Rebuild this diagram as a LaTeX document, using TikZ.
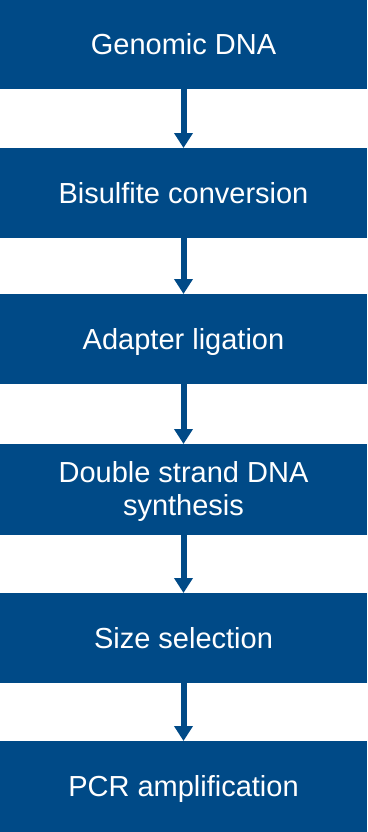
\documentclass[tikz,border=0pt]{standalone}
\usepackage{fontspec}
\setmainfont{Liberation Sans}
\usetikzlibrary{arrows.meta}
\definecolor{stepblue}{RGB}{0,74,135}
\begin{document}
\begin{tikzpicture}[x=1bp,y=-1bp,
  stepbox/.style={fill=stepblue, text=white, minimum width=367bp, inner sep=0pt,
    font=\fontsize{29bp}{33bp}\selectfont, align=center, anchor=north},
  oneline/.style={text height=20.5bp, text depth=0bp},
  flow/.style={draw=stepblue, line width=6bp, -{Triangle[width=18bp,length=15bp]}}]
  \useasboundingbox (0,0) rectangle (367,832);
  \node[stepbox, oneline, minimum height=89bp] (s1) at (183.5,0) {Genomic DNA};
  \node[stepbox, oneline, minimum height=90bp] (s2) at (183.5,148) {Bisulfite conversion};
  \node[stepbox, oneline, minimum height=90bp] (s3) at (183.5,294) {Adapter ligation};
  \node[stepbox, text depth=3bp, minimum height=91bp] (s4) at (183.5,444) {Double strand DNA\\synthesis};
  \node[stepbox, oneline, minimum height=90bp] (s5) at (183.5,593) {Size selection};
  \node[stepbox, oneline, minimum height=91bp] (s6) at (183.5,741) {PCR amplification};
  \draw[flow] (s1.south) -- (s2.north);
  \draw[flow] (s2.south) -- (s3.north);
  \draw[flow] (s3.south) -- (s4.north);
  \draw[flow] (s4.south) -- (s5.north);
  \draw[flow] (s5.south) -- (s6.north);
\end{tikzpicture}
\end{document}
